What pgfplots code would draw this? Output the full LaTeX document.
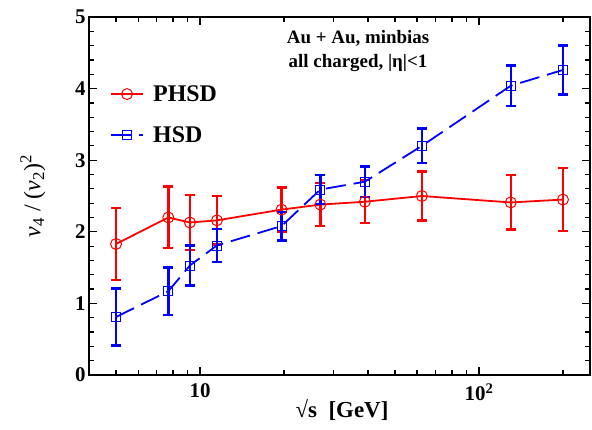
\documentclass[border=0pt]{standalone}
\usepackage{pgfplots}
\pgfplotsset{compat=1.18}
\usepackage{pgfplotstable}
\usepackage{fontspec}
\setmainfont{Liberation Serif}
\definecolor{myred}{RGB}{255,0,0}
\definecolor{myblue}{RGB}{0,0,255}
\pgfplotstableread{
x y e
5 1.83 0.50
7.7 2.20 0.43
9.2 2.13 0.38
11.5 2.16 0.34
19.6 2.31 0.31
27 2.38 0.30
39 2.42 0.30
62.4 2.50 0.34
130 2.41 0.38
200 2.45 0.44
}\phsd
\pgfplotstableread{
x y e
5 0.81 0.40
7.7 1.17 0.33
9.2 1.53 0.28
11.5 1.81 0.23
19.6 2.08 0.20
27 2.59 0.20
39 2.70 0.21
62.4 3.20 0.24
130 4.04 0.28
200 4.26 0.34
}\hsd
\begin{document}
\begin{tikzpicture}
\begin{axis}[
  scale only axis, width=501bp, height=358bp,
  xmode=log, xmin=4, xmax=250, ymin=0, ymax=5,
  axis line style={line width=1.6bp},
  tick style={line width=1.2bp, black},
  major tick length=8bp, minor tick length=5bp,
  tick align=inside,
  xtick={10,100}, xticklabels={\textbf{10},\textbf{10}\textsuperscript{\textbf{2}}},
  minor xtick={4,5,6,7,8,9,20,30,40,50,60,70,80,90,200},
  ytick={0,1,2,3,4,5}, minor y tick num=4,
  /pgf/number format/assume math mode=true,
  ticklabel style={font=\bfseries\fontsize{21}{24}\selectfont},
  xticklabel style={yshift=-5bp},
  xlabel={\textbf{\char"221A s\ \ [GeV]}},
  xlabel style={at={(axis description cs:0.505,-0.098)}, anchor=center, font=\bfseries\fontsize{23}{26}\selectfont},
  ylabel={\textit{v}\textsubscript{4} / (\textit{v}\textsubscript{2})\textsuperscript{2}},
  ylabel style={at={(axis description cs:-0.112,0.5)}, anchor=center, font=\fontsize{24}{26}\selectfont},
  legend style={at={(axis description cs:0.042,0.815)}, anchor=north west, draw=none, fill=none,
    font=\bfseries\fontsize{24}{28}\selectfont, row sep=20bp, inner sep=0pt},
  legend cell align=left,
  legend image code/.code={\draw[mark repeat=2,mark phase=2,#1] plot coordinates {(0cm,0cm)(0.56cm,0cm)(1.12cm,0cm)}; \path (1.38cm,0cm);},
]
\addplot[myred, line width=1.8bp, mark=o, mark size=5.5bp, mark options={solid, line width=1bp},
  error bars/.cd, y dir=both, y explicit,
  error bar style={solid, line width=2.4bp},
  error mark options={rotate=90, mark size=5bp, line width=2.4bp, myred}]
  table[x=x, y=y, y error=e] {\phsd};
\addlegendentry{PHSD}
\addplot[myblue, line width=1.8bp, dash pattern=on 20bp off 8bp, mark=square, mark size=4.5bp, mark options={solid, line width=0.8bp},
  error bars/.cd, y dir=both, y explicit,
  error bar style={solid, line width=2.4bp},
  error mark options={rotate=90, mark size=5bp, line width=2.4bp, myblue}]
  table[x=x, y=y, y error=e] {\hsd};
\addlegendentry{HSD}
\node[align=center, font=\bfseries\fontsize{19}{24}\selectfont] at (axis description cs:0.537,0.905) {Au + Au, minbias\\all charged, |η|<1};
\end{axis}
\path (-89bp,-55bp) rectangle (503bp,375bp);
\end{tikzpicture}
\end{document}
